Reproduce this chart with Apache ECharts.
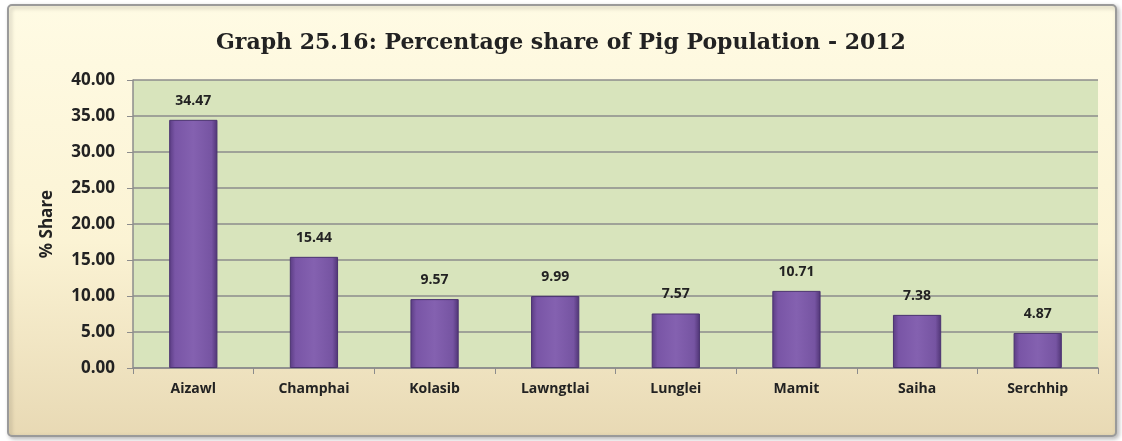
<!DOCTYPE html>
<html>
<head>
<meta charset="utf-8">
<style>
  html, body { margin: 0; padding: 0; background: #ffffff; }
  #chart { width: 1122px; height: 441px; }
</style>
<script src="https://cdn.jsdelivr.net/npm/echarts@6/dist/echarts.min.js"></script>
</head>
<body>
<div id="chart"></div>
<script>
const districts = ["Aizawl", "Champhai", "Kolasib", "Lawngtlai", "Lunglei", "Mamit", "Saiha", "Serchhip"];
const pigShare = [34.47, 15.44, 9.57, 9.99, 7.57, 10.71, 7.38, 4.87];
const titleText = "Graph 25.16: Percentage share of Pig Population - 2012";
const yAxisName = "% Share";

const chart = echarts.init(document.getElementById("chart"));

const labelFont = "'Open Sans', 'Liberation Sans', sans-serif";

chart.setOption({
  animation: false,
  backgroundColor: "#ffffff",
  graphic: [
    {
      // outer frame with soft cream gradient
      type: "rect",
      shape: { x: 8, y: 5, width: 1108, height: 431, r: 4 },
      style: {
        fill: {
          type: "linear", x: 0, y: 0, x2: 0, y2: 1,
          colorStops: [
            { offset: 0, color: "#fffbe4" },
            { offset: 0.55, color: "#fbf3d4" },
            { offset: 1, color: "#e8d9b4" },
          ],
        },
        stroke: "#9a9a9a",
        lineWidth: 2,
        shadowColor: "rgba(0,0,0,0.25)",
        shadowBlur: 4,
        shadowOffsetX: 2,
        shadowOffsetY: 2,
      },
      z: -10,
    },
  ],
  title: {
    text: titleText,
    left: "center",
    top: 27,
    textStyle: {
      fontFamily: "'DejaVu Serif', 'Liberation Serif', serif",
      fontWeight: "bold",
      fontSize: 22,
      color: "#222222",
    },
  },
  grid: {
    left: 133,
    right: 24,
    top: 80,
    bottom: 73,
    show: true,
    backgroundColor: "#d8e4bc",
    borderWidth: 0,
  },
  xAxis: {
    type: "category",
    data: districts,
    axisLine: { lineStyle: { color: "#8c8c8c", width: 1.5 } },
    axisTick: { show: true, length: 6, lineStyle: { color: "#8c8c8c" } },
    axisLabel: {
      color: "#222222",
      fontFamily: labelFont,
      fontWeight: "bold",
      fontSize: 14,
      margin: 14,
    },
  },
  yAxis: {
    type: "value",
    min: 0,
    max: 40,
    interval: 5,
    name: yAxisName,
    nameLocation: "middle",
    nameGap: 77,
    nameTextStyle: {
      color: "#222222",
      fontFamily: labelFont,
      fontWeight: "bold",
      fontSize: 17,
    },
    axisLine: { show: true, lineStyle: { color: "#8c8c8c", width: 1.5 } },
    axisTick: { show: true, length: 6, lineStyle: { color: "#8c8c8c" } },
    axisLabel: {
      color: "#222222",
      fontFamily: labelFont,
      fontWeight: "bold",
      fontSize: 17,
      margin: 18,
      formatter: (v) => v.toFixed(2),
    },
    splitLine: { show: true, lineStyle: { color: "#8c8c8c", width: 1.5 } },
  },
  series: [
    {
      type: "bar",
      data: pigShare,
      barWidth: "40%",
      itemStyle: {
        color: {
          type: "linear", x: 0, y: 0, x2: 1, y2: 0,
          colorStops: [
            { offset: 0, color: "#5a3c82" },
            { offset: 0.12, color: "#7955a6" },
            { offset: 0.5, color: "#8461b0" },
            { offset: 0.88, color: "#7654a2" },
            { offset: 1, color: "#4f3474" },
          ],
        },
        borderColor: "#4a3270",
        borderWidth: 1,
      },
      label: {
        show: true,
        position: "top",
        distance: 12,
        color: "#222222",
        fontFamily: labelFont,
        fontWeight: "bold",
        fontSize: 14,
        formatter: (p) => p.value.toFixed(2),
      },
    },
  ],
});
</script>
</body>
</html>
